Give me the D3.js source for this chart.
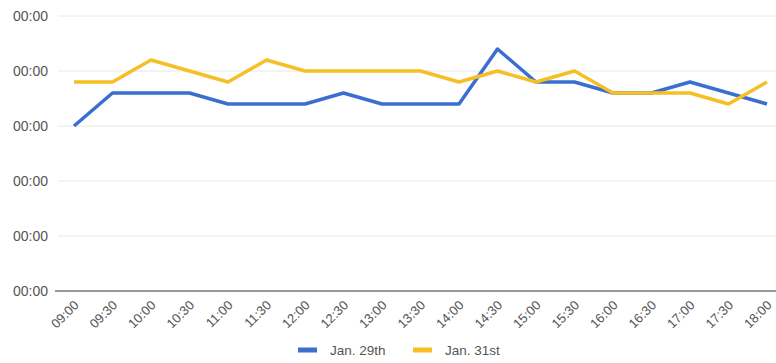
<!DOCTYPE html>
<html><head><meta charset="utf-8">
<script src="https://cdn.jsdelivr.net/npm/d3@7"></script>
<style>body{margin:0;background:#fff}svg{display:block;font-family:Arial,"Liberation Sans",sans-serif}</style>
</head><body>
<svg id="c" width="776" height="363"></svg>
<script>
const categories = ["09:00","09:30","10:00","10:30","11:00","11:30","12:00","12:30","13:00","13:30","14:00","14:30","15:00","15:30","16:00","16:30","17:00","17:30","18:00"];
const seriesNames = ["Jan. 29th","Jan. 31st"];
const jan29 = [3.0,3.6,3.6,3.6,3.4,3.4,3.4,3.6,3.4,3.4,3.4,4.4,3.8,3.8,3.6,3.6,3.8,3.6,3.4];
const jan31 = [3.8,3.8,4.2,4.0,3.8,4.2,4.0,4.0,4.0,4.0,3.8,4.0,3.8,4.0,3.6,3.6,3.6,3.4,3.8];
const yTickValues = [0,1,2,3,4,5];
const yTickLabels = ["00:00","00:00","00:00","00:00","00:00","00:00"];
const colors = ["#3a6fd0","#f5bf26"];

const svg = d3.select("#c");
const x = d3.scalePoint().domain(categories).range([74,767]);
const y = d3.scaleLinear().domain([0,5]).range([291,16]);

// gridlines
svg.append("g").selectAll("line").data(yTickValues.slice(1)).join("line")
  .attr("x1",58).attr("x2",776).attr("y1",d=>y(d)).attr("y2",d=>y(d))
  .attr("stroke","#e8e8e8").attr("stroke-width",1);

// y axis labels
const yAxis = svg.append("g").attr("transform","translate(48,0)")
  .call(d3.axisLeft(y).tickValues(yTickValues).tickFormat((d,i)=>yTickLabels[i]).tickSize(0).tickPadding(0));
yAxis.select(".domain").remove();
yAxis.selectAll("text").attr("fill","#555").style("font-size","14px");

// x axis
const xAxis = svg.append("g").attr("transform",`translate(0,${y(0)})`)
  .call(d3.axisBottom(x).tickSize(0).tickPadding(0));
xAxis.select(".domain").attr("d","M55,0H776").attr("stroke","#333").attr("stroke-width",1.2);
xAxis.selectAll("text").attr("fill","#555").style("font-size","13px")
  .attr("text-anchor","end").attr("dy",null).attr("y",0)
  .attr("transform","translate(5,15) rotate(-45)");

// lines
const line = d3.line().x((d,i)=>x(categories[i])).y(d=>y(d));
[jan29,jan31].forEach((s,k)=>{
  svg.append("path").datum(s).attr("d",line).attr("fill","none")
    .attr("stroke",colors[k]).attr("stroke-width",3.5).attr("stroke-linejoin","round");
});

// legend
const lg = svg.append("g").attr("transform","translate(298,350)");
const lx = [0,115];
seriesNames.forEach((n,k)=>{
  const g = lg.append("g").attr("transform",`translate(${lx[k]},0)`);
  g.append("rect").attr("x",0).attr("y",-2.5).attr("width",19).attr("height",5).attr("fill",colors[k]);
  g.append("text").attr("x",32).attr("y",5).attr("fill","#555").style("font-size","13.5px").text(n);
});
</script>
</body></html>
